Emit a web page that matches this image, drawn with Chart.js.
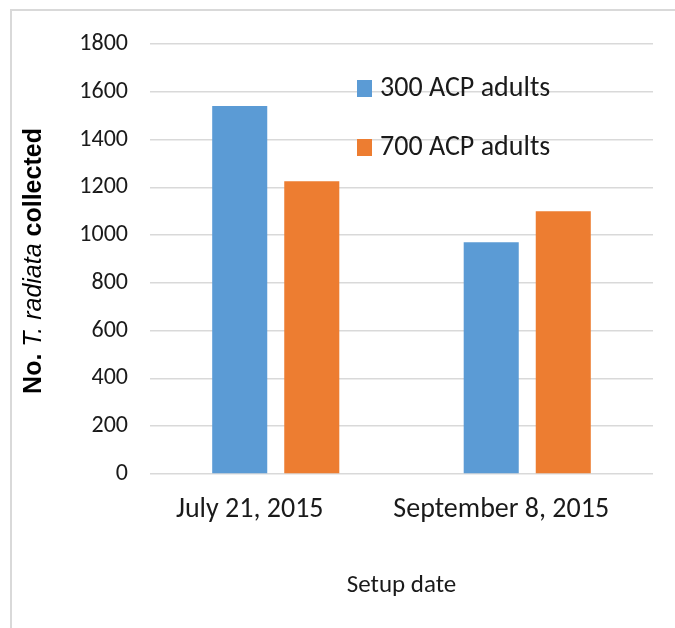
<!DOCTYPE html>
<html>
<head>
<meta charset="utf-8">
<script src="https://cdn.jsdelivr.net/npm/chart.js@4/dist/chart.umd.min.js"></script>
<style>
  html, body { margin: 0; padding: 0; background: #fff; }
  #frame {
    position: absolute; left: 10px; top: 9px; width: 665px; height: 619px;
    border-left: 2px solid #d9d9d9; border-top: 2px solid #d9d9d9;
  }
  #wrap { position: absolute; left: 0; top: 0; width: 675px; height: 628px; }
</style>
</head>
<body>
<div id="frame"></div>
<div id="wrap"><canvas id="setup_chart"></canvas></div>
<script>
const setupDates = ["July 21, 2015", "September 8, 2015"];
const seriesNames = ["300 ACP adults", "700 ACP adults"];
const adults300 = [1540, 970];
const adults700 = [1225, 1100];
const yTickValues = [0, 200, 400, 600, 800, 1000, 1200, 1400, 1600, 1800];

const blue = "#5B9BD5";
const orange = "#ED7D31";
const labelFont = "Carlito, 'Liberation Sans Narrow', 'Liberation Sans', sans-serif";
const titleFont = "'Liberation Sans', Arial, sans-serif";

// legend sits inside the plot, two rows stacked on the right
const insideLegend = {
  id: "insideLegend",
  afterDraw(chart) {
    const ctx = chart.ctx;
    const area = chart.chartArea;
    ctx.save();
    ctx.font = "28px " + labelFont;
    ctx.textBaseline = "middle";
    chart.data.datasets.forEach((ds, i) => {
      const x = area.left + 207;
      const y = area.top + 44 + i * 59;
      ctx.fillStyle = ds.backgroundColor;
      ctx.fillRect(x, y - 8, 15, 17);
      ctx.fillStyle = "#1a1a1a";
      ctx.fillText(ds.label, x + 23, y + 1);
    });
    ctx.restore();
  },
};

// y title needs mixed bold / italic runs
const yTitle = {
  id: "yTitle",
  afterDraw(chart) {
    const ctx = chart.ctx;
    const area = chart.chartArea;
    const parts = [
      { text: "No. ", font: "bold 25px " + titleFont },
      { text: "T. radiata", font: "italic 25px " + titleFont },
      { text: " collected", font: "bold 25px " + titleFont },
    ];
    ctx.save();
    let total = 0;
    parts.forEach((p) => {
      ctx.font = p.font;
      p.w = ctx.measureText(p.text).width;
      total += p.w;
    });
    ctx.translate(chart.scales.y.left + 22, (area.top + area.bottom) / 2 + 2);
    ctx.rotate(-Math.PI / 2);
    ctx.textBaseline = "middle";
    ctx.fillStyle = "#000";
    let x = -total / 2;
    parts.forEach((p) => {
      ctx.font = p.font;
      ctx.fillText(p.text, x, 0);
      x += p.w;
    });
    ctx.restore();
  },
};

const ctx = document.getElementById("setup_chart");

new Chart(ctx, {
  type: "bar",
  data: {
    labels: setupDates,
    datasets: [
      { label: seriesNames[0], data: adults300, backgroundColor: blue },
      { label: seriesNames[1], data: adults700, backgroundColor: orange },
    ],
  },
  options: {
    responsive: true,
    maintainAspectRatio: false,
    animation: false,
    categoryPercentage: 0.573,
    barPercentage: 0.764,
    layout: { padding: { left: 12, right: 22, top: 44, bottom: 0 } },
    scales: {
      x: {
        grid: { display: false },
        border: { display: false },
        ticks: {
          color: "#1a1a1a",
          font: { family: labelFont, size: 28 },
          padding: 11,
          labelOffset: -26,
          maxRotation: 0,
          autoSkip: false,
        },
        title: {
          display: true,
          text: "Setup date",
          color: "#1a1a1a",
          font: { family: labelFont, size: 25 },
          padding: { top: 0, bottom: 27 },
        },
        afterFit(scale) {
          scale.height = 154;
        },
      },
      y: {
        min: 0,
        max: 1800,
        grid: { color: "#d9d9d9", lineWidth: 1.5, drawTicks: false },
        border: { display: false },
        ticks: {
          color: "#1a1a1a",
          font: { family: labelFont, size: 24 },
          padding: 22,
          callback: (v) => String(v),
        },
        afterBuildTicks(scale) {
          scale.ticks = yTickValues.map((v) => ({ value: v }));
        },
        afterFit(scale) {
          scale.width = 138;
        },
      },
    },
    plugins: {
      legend: { display: false },
      tooltip: { enabled: false },
    },
  },
  plugins: [insideLegend, yTitle],
});
</script>
</body>
</html>
